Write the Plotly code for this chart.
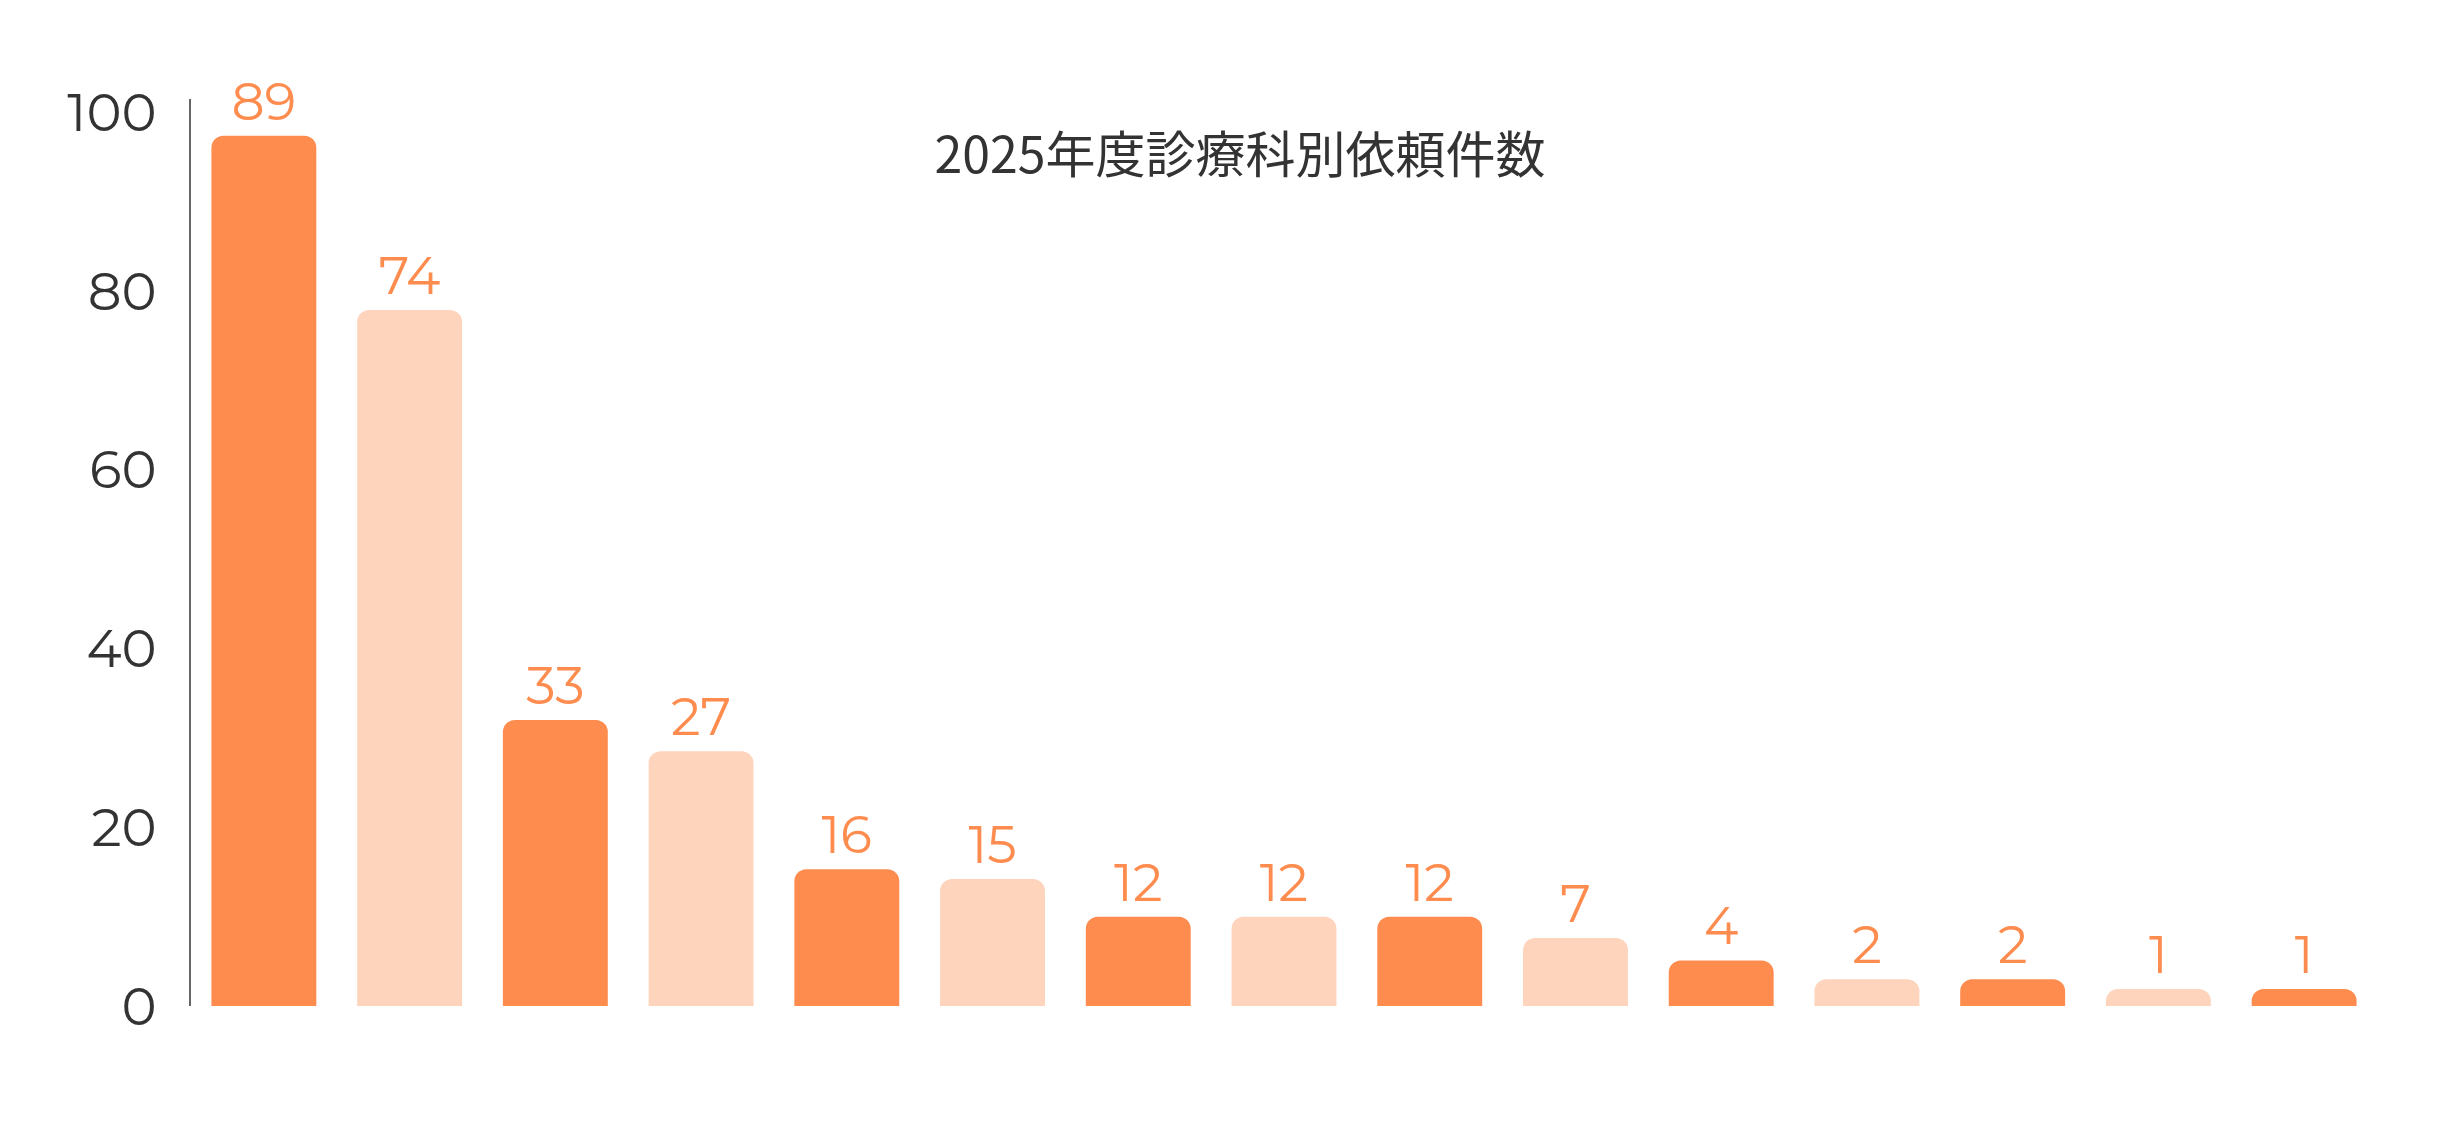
import plotly.graph_objects as go

# categories (no labels shown on the axis)
depts = ["A", "B", "C", "D", "E", "F", "G", "H", "I", "J", "K", "L", "M", "N", "O"]
# bar heights as drawn in the picture
bar_heights = [97.4, 77.9, 32, 28.5, 15.3, 14.2, 10, 10, 10, 7.6, 5.1, 3, 3, 1.9, 1.9]
# numbers printed above the bars
counts = [89, 74, 33, 27, 16, 15, 12, 12, 12, 7, 4, 2, 2, 1, 1]
y_ticks = [0, 20, 40, 60, 80, 100]

dark = "#FF8C4F"
light = "#FFD4BD"
colors = [dark if i % 2 == 0 else light for i in range(len(depts))]

fig = go.Figure()
fig.add_trace(go.Bar(x=depts, y=bar_heights,
                     marker=dict(color=colors, line=dict(width=0)),
                     text=[str(c) for c in counts],
                     textposition="outside",
                     cliponaxis=False,
                     textfont=dict(family="Montserrat, Lato, sans-serif", size=52, color=dark)))

fig.update_layout(
    title=dict(text="2025年度診療科別依頼件数", x=0.5, xanchor="center", y=0.885,
               font=dict(family="Noto Sans CJK JP", size=50, color="#333333")),
    width=2464, height=1128,
    margin=dict(l=183, r=95, t=91, b=130),
    plot_bgcolor="white", paper_bgcolor="white",
    bargap=0.28, barcornerradius=12,
    showlegend=False,
)
fig.update_xaxes(showticklabels=False, showline=False, showgrid=False, zeroline=False)
fig.update_yaxes(range=[0, 101.5], tickvals=y_ticks, showgrid=False, zeroline=False,
                 showline=True, linecolor="#666666", linewidth=1.5, ticks="",
                 ticklabelstandoff=22,
                 tickfont=dict(family="Montserrat, Lato, sans-serif", size=53, color="#333333"))

fig.write_html("out.html")
